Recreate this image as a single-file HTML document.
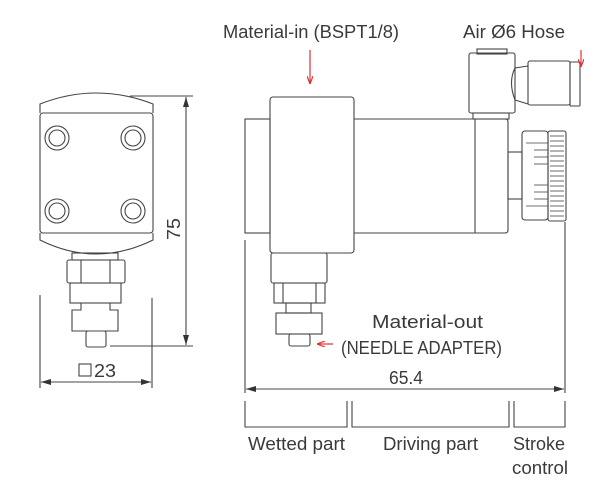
<!DOCTYPE html>
<html><head><meta charset="utf-8"><style>
html,body{margin:0;padding:0;background:#fff;}
svg{display:block;}
text{font-family:"Liberation Sans",sans-serif;fill:#3a3a3a;font-size:18.5px;}
</style></head><body>
<svg width="614" height="498" viewBox="0 0 614 498" xmlns="http://www.w3.org/2000/svg">
<defs>
<marker id="ar" viewBox="0 0 10 6" refX="10" refY="3" markerWidth="10" markerHeight="6" orient="auto-start-reverse" markerUnits="userSpaceOnUse"><path d="M0,0 L10,3 L0,6 z" fill="#333"/></marker>
<marker id="rr" viewBox="0 0 8 6" refX="8" refY="3" markerWidth="8" markerHeight="6" orient="auto" markerUnits="userSpaceOnUse"><path d="M0,0 L8,3 L0,6" fill="none" stroke="#d33" stroke-width="1.2"/></marker>
</defs>
<g fill="none" stroke="#444" stroke-width="1.1">
<path d="M40,113 L40,104 Q96,82 153,104 L153,113"/>
<rect x="40" y="113" width="113" height="120" rx="3"/>
<path d="M40,233 L40,240 Q96,268 153,240 L153,233"/>
<circle cx="57" cy="138" r="12"/><circle cx="57" cy="138" r="8"/>
<circle cx="133" cy="138" r="12"/><circle cx="133" cy="138" r="8"/>
<circle cx="57" cy="211" r="12"/><circle cx="57" cy="211" r="8"/>
<circle cx="133" cy="211" r="12"/><circle cx="133" cy="211" r="8"/>
<rect x="72" y="253" width="46" height="7"/>
<rect x="67" y="260" width="58" height="23" rx="2"/>
<line x1="81" y1="260" x2="81" y2="283"/><line x1="110" y1="260" x2="110" y2="283"/>
<rect x="70" y="283" width="51" height="20"/>
<path d="M81,303 L81,310 L72,310 L72,331 L118,331 L118,310 L110,310 L110,303"/>
<rect x="86" y="331" width="20" height="16" rx="2"/>
<line x1="130" y1="96" x2="193" y2="96"/>
<line x1="110" y1="346" x2="193" y2="346"/>
<line x1="186" y1="97" x2="186" y2="345" marker-start="url(#ar)" marker-end="url(#ar)"/>
<line x1="40" y1="295" x2="40" y2="388"/>
<line x1="152" y1="298" x2="152" y2="388"/>
<line x1="41" y1="382" x2="151" y2="382" marker-start="url(#ar)" marker-end="url(#ar)"/>
<rect x="79" y="364" width="12" height="12"/>
<rect x="245" y="119" width="25" height="114"/>
<rect x="270" y="97" width="84" height="156" rx="3"/>
<path d="M354,119 L505,119 Q508,119 508,122 L508,230 Q508,233 505,233 L354,233"/>
<line x1="475" y1="119" x2="475" y2="233"/>
<rect x="477" y="49" width="30" height="5"/>
<rect x="469" y="53" width="46" height="60" rx="2"/>
<rect x="473" y="113" width="36" height="6"/>
<path d="M515,68 Q508,82 515,100 M515,68 L528,66 M515,100 L528,104"/>
<rect x="528" y="61" width="42" height="44" rx="2"/>
<rect x="570" y="62" width="10" height="44" rx="1"/>
<rect x="508" y="152" width="14" height="47"/>
<rect x="522" y="131" width="26" height="89" rx="3"/>
<rect x="548" y="131" width="18" height="90" rx="2"/>
<g stroke-width="0.8">
<line x1="550" y1="136" x2="564" y2="136"/><line x1="550" y1="141" x2="564" y2="141"/><line x1="550" y1="146" x2="564" y2="146"/><line x1="550" y1="151" x2="564" y2="151"/><line x1="550" y1="156" x2="564" y2="156"/><line x1="550" y1="161" x2="564" y2="161"/><line x1="550" y1="166" x2="564" y2="166"/><line x1="550" y1="171" x2="564" y2="171"/><line x1="550" y1="176" x2="564" y2="176"/><line x1="550" y1="181" x2="564" y2="181"/><line x1="550" y1="186" x2="564" y2="186"/><line x1="550" y1="191" x2="564" y2="191"/><line x1="550" y1="196" x2="564" y2="196"/><line x1="550" y1="201" x2="564" y2="201"/><line x1="550" y1="206" x2="564" y2="206"/><line x1="550" y1="211" x2="564" y2="211"/><line x1="550" y1="216" x2="564" y2="216"/>
<line x1="526" y1="143" x2="548" y2="143"/><line x1="534" y1="150" x2="548" y2="150"/><line x1="534" y1="157" x2="548" y2="157"/><line x1="534" y1="164" x2="548" y2="164"/><line x1="534" y1="185" x2="548" y2="185"/><line x1="534" y1="192" x2="548" y2="192"/><line x1="534" y1="199" x2="548" y2="199"/><line x1="526" y1="206" x2="548" y2="206"/>
</g>
<rect x="271" y="253" width="56" height="30" rx="2"/>
<rect x="274" y="283" width="51" height="20"/>
<line x1="283" y1="283" x2="283" y2="303"/><line x1="316" y1="283" x2="316" y2="303"/>
<rect x="286" y="303" width="25" height="10"/>
<rect x="276" y="313" width="46" height="21"/>
<rect x="289" y="334" width="21" height="12" rx="2"/>
<line x1="245" y1="240" x2="245" y2="393"/>
<line x1="565" y1="222" x2="565" y2="393"/>
<line x1="246" y1="389" x2="564" y2="389" marker-start="url(#ar)" marker-end="url(#ar)"/>
<path d="M245,401 V427 H347 V401"/>
<path d="M352,401 V427 H509 V401"/>
<path d="M514,401 V427 H565 V401"/>
</g>
<g stroke="#d33" stroke-width="1.2" fill="none">
<line x1="310" y1="50" x2="310" y2="84" marker-end="url(#rr)"/>
<line x1="581" y1="50" x2="581" y2="67" marker-end="url(#rr)"/>
<line x1="333" y1="344" x2="317" y2="344" marker-end="url(#rr)"/>
</g>
<text x="223" y="38" textLength="176" lengthAdjust="spacingAndGlyphs">Material-in (BSPT1/8)</text>
<text x="463" y="38" textLength="102" lengthAdjust="spacingAndGlyphs">Air Ø6 Hose</text>
<text x="372" y="328" textLength="111" lengthAdjust="spacingAndGlyphs">Material-out</text>
<text x="341" y="354" textLength="161" lengthAdjust="spacingAndGlyphs">(NEEDLE ADAPTER)</text>
<text x="389" y="384" textLength="34" lengthAdjust="spacingAndGlyphs">65.4</text>
<text x="94" y="377" textLength="22" lengthAdjust="spacingAndGlyphs">23</text>
<text transform="translate(180,240) rotate(-90)" textLength="22" lengthAdjust="spacingAndGlyphs">75</text>
<text x="248" y="450" textLength="97" lengthAdjust="spacingAndGlyphs">Wetted part</text>
<text x="383" y="450" textLength="95" lengthAdjust="spacingAndGlyphs">Driving part</text>
<text x="513" y="450" textLength="52" lengthAdjust="spacingAndGlyphs">Stroke</text>
<text x="512" y="474" textLength="56" lengthAdjust="spacingAndGlyphs">control</text>
</svg>
</body></html>
